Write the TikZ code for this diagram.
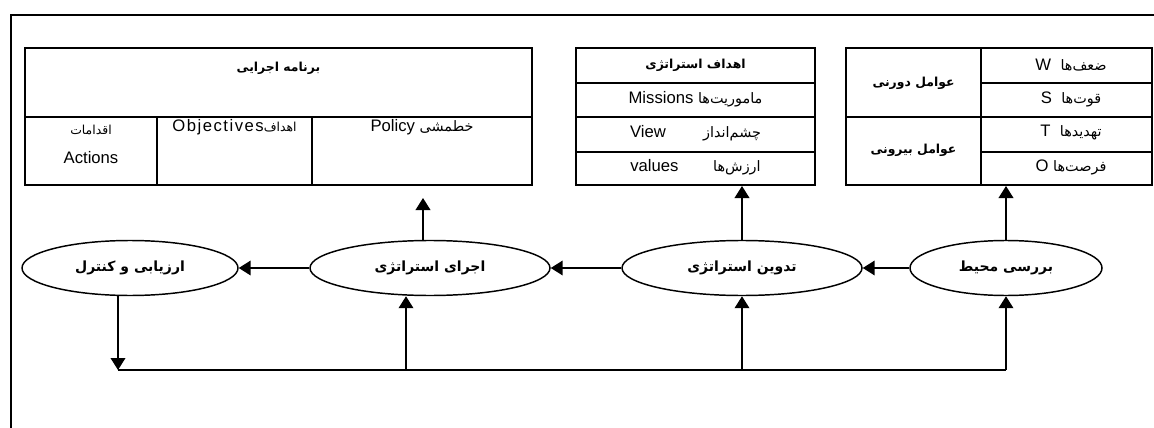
\documentclass[tikz,border=0pt]{standalone}
\usepackage{fontspec}
\setmainfont{Liberation Sans}
\newfontfamily\fa[Script=Arabic]{DejaVu Sans}
\TeXXeTstate=1
\usetikzlibrary{shapes.geometric,arrows.meta}
\newcommand{\fatxt}[1]{{\fontsize{10.8}{12}\fa\beginR #1\endR}}
\newcommand{\fasmall}[1]{{\fontsize{9.3}{11}\fa\beginR #1\endR}}
\newcommand{\fab}[1]{{\fa\bfseries\beginR #1\endR}}
\begin{document}
\begin{tikzpicture}[x=0.75pt,y=-0.75pt,
  frameline/.style={line width=1.5pt},
  boxnode/.style={draw,line width=1.5pt,inner sep=0pt,minimum height=102.75pt},
  cellline/.style={line width=1.5pt},
  proc/.style={draw,ellipse,line width=1.1pt,inner sep=0pt,minimum height=41.25pt,font=\fontsize{10.5}{12}\selectfont},
  arr/.style={line width=1.2pt,-{Triangle[length=9pt,width=11pt]}},
  plain/.style={line width=1.2pt},
  lbl/.style={inner sep=0pt,font=\fontsize{12.5}{14}\selectfont},
  falbl/.style={inner sep=0pt,font=\fontsize{9.3}{11}\selectfont}
]
\useasboundingbox (0,0) rectangle (1154,428);
% outer frame (cropped on the right and bottom)
\draw[frameline] (1154,15) -- (11,15) -- (11,428);

% ---------- Box 1 : executive programme ----------
\node[boxnode,minimum width=380.25pt] (b1) at (278.5,116.5) {};
\draw[cellline] (25,117) -- (532,117);
\draw[cellline] (157,117) -- (157,185);
\draw[cellline] (312,117) -- (312,185);
\node[falbl] (b1t) at (278.5,68) {\fab{برنامه اجرایی}};
\node[lbl] (b1a) at (91,130) {\fasmall{اقدامات}};
\node[lbl] (b1b) at (91,158) {Actions};
\node[lbl] (b1c) at (234.5,127) {{\addfontfeature{LetterSpace=9}Objectives}\fasmall{اهداف}};
\node[lbl] (b1d) at (422,127) {Policy \fatxt{خطمشی}};

% ---------- Box 2 : strategic goals ----------
\node[boxnode,minimum width=179.25pt] (b2) at (695.5,116.5) {};
\draw[cellline] (576,83) -- (815,83);
\draw[cellline] (576,117) -- (815,117);
\draw[cellline] (576,152) -- (815,152);
\node[falbl] (b2t) at (695.5,65) {\fab{اهداف استراتژی}};
\node[lbl] (b2a) at (695.5,99) {Missions \fatxt{ماموریت‌ها}};
\node[lbl] (b2b) at (695.5,133) {View\hspace{28pt}\fatxt{چشم‌انداز}};
\node[lbl] (b2c) at (695.5,167) {values\hspace{26pt}\fatxt{ارزش‌ها}};

% ---------- Box 3 : environment factors ----------
\node[boxnode,minimum width=229.5pt] (b3) at (999,116.5) {};
\draw[cellline] (981,48) -- (981,185);
\draw[cellline] (846,117) -- (1152,117);
\draw[cellline] (981,83) -- (1152,83);
\draw[cellline] (981,152) -- (1152,152);
\node[falbl] (b3a) at (913.5,83) {\fab{عوامل دورنی}};
\node[falbl] (b3b) at (913.5,150) {\fab{عوامل بیرونی}};
\node[lbl] (b3c) at (1071,65) {W\hspace{7pt}\fatxt{ضعف‌ها}};
\node[lbl] (b3d) at (1071,99) {S\hspace{7pt}\fatxt{قوت‌ها}};
\node[lbl] (b3e) at (1071,133) {T\hspace{7pt}\fatxt{تهدیدها}};
\node[lbl] (b3f) at (1071,167) {O \fatxt{فرصت‌ها}};

% ---------- process ellipses ----------
\node[proc,minimum width=162pt] (arz) at (130,268) {\fab{ارزیابی و کنترل}};
\node[proc,minimum width=180pt] (ejra) at (430,268) {\fab{اجرای استراتژی}};
\node[proc,minimum width=180pt] (tadvin) at (742,268) {\fab{تدوین استراتژی}};
\node[proc,minimum width=144pt] (mohit) at (1006,268) {\fab{بررسی محیط}};

% ---------- connectors ----------
\draw[arr] (mohit.west) -- (tadvin.east);
\draw[arr] (tadvin.west) -- (ejra.east);
\draw[arr] (ejra.west) -- (arz.east);

\draw[arr] (mohit.north) -- (mohit.north |- b3.south);
\draw[arr] (tadvin.north) -- (tadvin.north |- b2.south);
\coordinate (t1) at (423,198);
\draw[arr] (ejra.north -| t1) -- (t1);

% feedback loop
\coordinate (fbL) at (118,370);
\coordinate (fbE) at (406,370);
\coordinate (fbT) at (742,370);
\coordinate (fbR) at (1006,370);
\draw[arr] (arz.south -| fbL) -- (fbL);
\draw[plain] (fbL) -- (fbR);
\draw[arr] (fbR) -- (mohit.south);
\draw[arr] (fbE) -- (fbE |- ejra.south);
\draw[arr] (fbT) -- (tadvin.south);
\end{tikzpicture}
\end{document}
